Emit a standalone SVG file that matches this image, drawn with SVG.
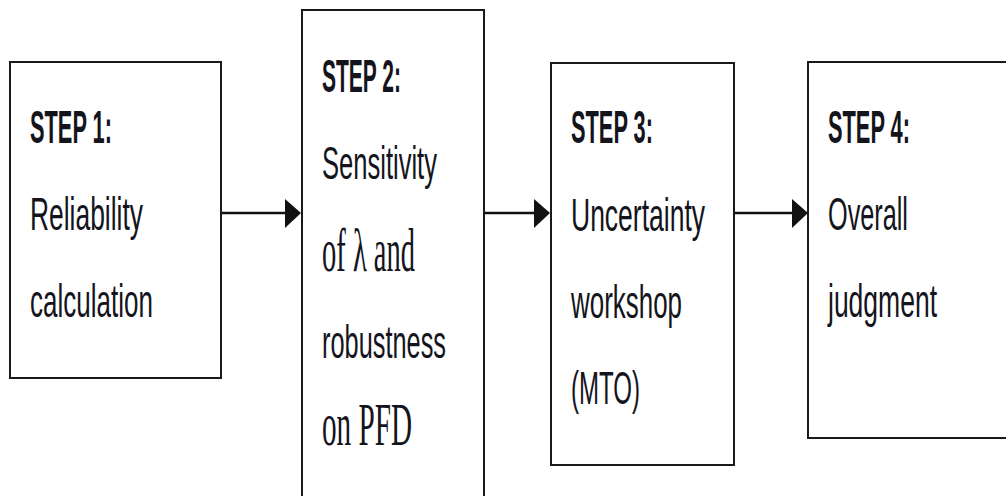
<svg xmlns="http://www.w3.org/2000/svg" width="1006" height="496" viewBox="0 0 1006 496">
  <style>
    .box { fill: #ffffff; stroke: #1a1a1a; stroke-width: 2; }
    .lbl { font-family: "Liberation Sans", Arial, sans-serif; font-size: 46px; fill: #14141c; }
    .hd { font-weight: bold; }
    .sf { font-family: "Liberation Serif", "Times New Roman", serif; font-size: 62px; }
    .conn { stroke: #111111; stroke-width: 2.5; fill: none; }
    .head { fill: #111111; }
  </style>
  <rect width="1006" height="496" fill="#ffffff"/>

  <g id="step1">
    <rect class="box" x="10" y="62" width="211" height="316"/>
    <text class="lbl hd" x="30" y="143" textLength="82" lengthAdjust="spacingAndGlyphs">STEP 1:</text>
    <text class="lbl" x="30" y="230" textLength="113" lengthAdjust="spacingAndGlyphs">Reliability</text>
    <text class="lbl" x="30" y="317" textLength="123" lengthAdjust="spacingAndGlyphs">calculation</text>
  </g>

  <g id="step2">
    <rect class="box" x="302" y="10" width="182" height="500"/>
    <text class="lbl hd" x="322" y="92" textLength="79" lengthAdjust="spacingAndGlyphs">STEP 2:</text>
    <text class="lbl" x="322" y="179" textLength="115" lengthAdjust="spacingAndGlyphs">Sensitivity</text>
    <text class="lbl sf" x="322" y="271" textLength="93" lengthAdjust="spacingAndGlyphs">of λ and</text>
    <text class="lbl" x="322" y="358" textLength="124" lengthAdjust="spacingAndGlyphs">robustness</text>
    <text class="lbl sf" x="322" y="445" textLength="90" lengthAdjust="spacingAndGlyphs">on PFD</text>
  </g>

  <g id="step3">
    <rect class="box" x="551" y="63" width="183" height="402"/>
    <text class="lbl hd" x="571" y="143" textLength="82" lengthAdjust="spacingAndGlyphs">STEP 3:</text>
    <text class="lbl" x="571" y="231" textLength="134" lengthAdjust="spacingAndGlyphs">Uncertainty</text>
    <text class="lbl" x="571" y="318" textLength="111" lengthAdjust="spacingAndGlyphs">workshop</text>
    <text class="lbl" x="571" y="404" textLength="69" lengthAdjust="spacingAndGlyphs">(MTO)</text>
  </g>

  <!-- the last box runs past the right edge; its labels are condensed by a horizontal scale -->
  <g id="step4">
    <rect class="box" x="808" y="62" width="210" height="376"/>
    <text class="lbl hd" transform="translate(828,143) scale(0.6,1)" textLength="136.7" lengthAdjust="spacingAndGlyphs">STEP 4:</text>
    <text class="lbl" transform="translate(828,230) scale(0.6,1)" textLength="133.3" lengthAdjust="spacingAndGlyphs">Overall</text>
    <text class="lbl" transform="translate(828,317) scale(0.6,1)" textLength="181.7" lengthAdjust="spacingAndGlyphs">judgment</text>
  </g>

  <g id="connectors">
    <line class="conn" x1="221" y1="213" x2="287" y2="213"/>
    <polygon class="head" points="285,199 301,213 285,228"/>
    <line class="conn" x1="484" y1="213" x2="536" y2="213"/>
    <polygon class="head" points="534,199 550,213 534,228"/>
    <line class="conn" x1="734" y1="213" x2="794" y2="213"/>
    <polygon class="head" points="792,199 808,213 792,228"/>
  </g>
</svg>
